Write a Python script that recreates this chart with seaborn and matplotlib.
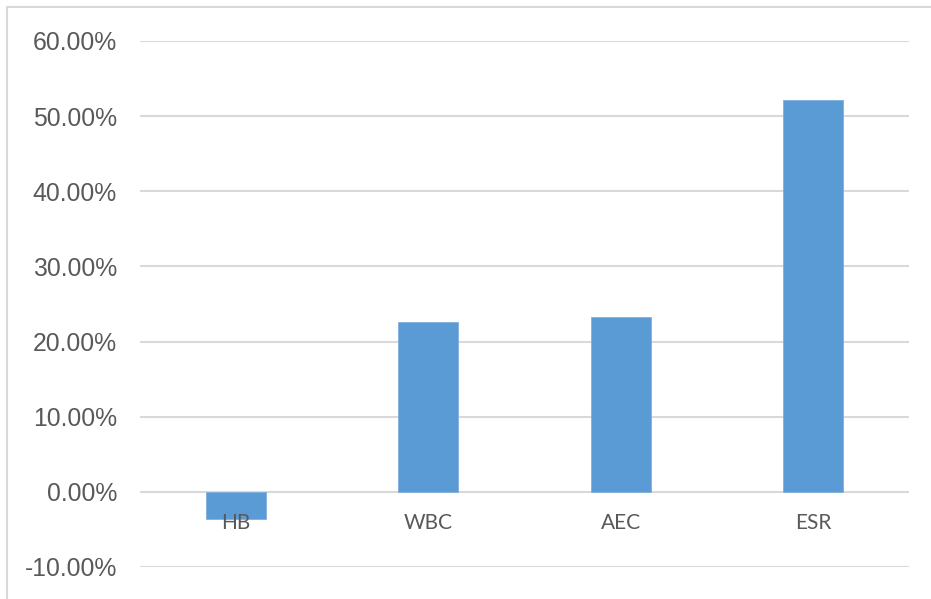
import matplotlib
matplotlib.use("Agg")
import matplotlib.pyplot as plt
from matplotlib.lines import Line2D
from matplotlib.ticker import FuncFormatter
import pandas as pd
import seaborn as sns

# Data
categories = ["HB", "WBC", "AEC", "ESR"]
values = [-0.036, 0.226, 0.233, 0.521]
y_ticks = [-0.10, 0.0, 0.10, 0.20, 0.30, 0.40, 0.50, 0.60]

df = pd.DataFrame({"category": categories, "value": values})

sns.set_theme(style="white")
plt.rcParams["font.family"] = ["Liberation Sans", "DejaVu Sans"]

W, H = 931, 599
fig = plt.figure(figsize=(W / 100, H / 100), dpi=100)
ax = fig.add_axes([140 / W, (H - 567) / H, (909 - 140) / W, (567 - 41) / H])

grid_color = "#d9d9d9"
for t in y_ticks:
    ax.axhline(t, color=grid_color, lw=1.5, zorder=0)

sns.barplot(data=df, x="category", y="value", color="#5b9bd5",
            saturation=1, width=0.312, ax=ax, zorder=2,
            edgecolor="#7fb0de", linewidth=0.6)

ax.set_xlim(-0.5, len(categories) - 0.5)
ax.set_ylim(-0.10, 0.60)
ax.set_yticks(y_ticks)
ax.yaxis.set_major_formatter(FuncFormatter(lambda v, _: f"{v * 100:.2f}%"))
ax.tick_params(axis="y", labelsize=17.8, labelcolor="#595959", length=0, pad=16.5)
ax.set_xticks([])
ax.set_xlabel("")
ax.set_ylabel("")
for s in ax.spines.values():
    s.set_visible(False)

# Category labels sit just below the zero line
for i, c in enumerate(categories):
    ax.annotate(c, xy=(i, 0), xytext=(0, -31 * 72 / 100), textcoords="offset points",
                ha="center", va="center", fontsize=15, color="#595959",
                family=["Lato", "DejaVu Sans"])

# Chart-area frame on the left and top
fig.add_artist(Line2D([6.5 / W, 6.5 / W], [0, (H - 6.5) / H], color=grid_color, lw=1.5,
                      transform=fig.transFigure))
fig.add_artist(Line2D([6.5 / W, 1], [(H - 6.5) / H, (H - 6.5) / H], color=grid_color, lw=1.5,
                      transform=fig.transFigure))

fig.savefig("out.png", dpi=100, facecolor="white")
